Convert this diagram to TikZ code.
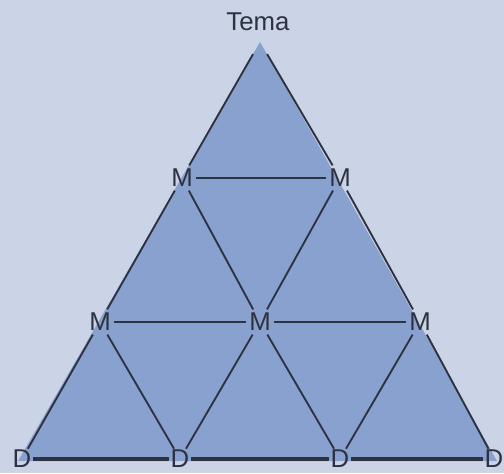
\documentclass[tikz,border=0pt]{standalone}
\usepackage{fontspec}
\setmainfont{Liberation Sans}
\usetikzlibrary{positioning}
\definecolor{papel}{RGB}{202,212,230}
\definecolor{azul}{RGB}{137,161,207}
\definecolor{tinta}{RGB}{46,50,64}
\tikzset{
    nivel/.style={
        text=tinta,
        inner sep=3pt,
        font=\fontsize{22}{26}\selectfont
    },
    % lineas finas de la red
    raya/.style={
        line width=1.6pt,
        tinta
    },
    % linea gruesa de la base
    base/.style={
        line width=3.8pt,
        tinta
    }
}

\begin{document}
\begin{tikzpicture}[x=0.03cm,y=-0.03cm]
	\fill[papel] (0,0) rectangle (504,473);
	\useasboundingbox (0,0) rectangle (504,473);

	% triangulo azul
	\fill[azul] (260,42) -- (18,461) -- (497,461) -- cycle;
	\coordinate (apex) at (260,42);

	% etiquetas
	\node[nivel] (tema) at (258,22) {Tema};
	\node[nivel] (m1) at (182,178) {M};
	\node[nivel] (m2) at (340,178) {M};
	\node[nivel] (m3) at (100,322) {M};
	\node[nivel] (m4) at (260,322) {M};
	\node[nivel] (m5) at (420,322) {M};
	\node[nivel,inner sep=1pt] (d1) at (22,459) {D};
	\node[nivel,inner sep=1pt] (d2) at (180,459) {D};
	\node[nivel,inner sep=1pt] (d3) at (340,459) {D};
	\node[nivel,inner sep=1pt] (d4) at (494,459) {D};

	% lados hacia el vertice
	\draw[raya,shorten <=0.42cm] (apex) -- (m1);
	\draw[raya,shorten <=0.42cm] (apex) -- (m2);

	% red interior
	\draw[raya] (m1) -- (m2);
	\draw[raya] (m1) -- (m3);
	\draw[raya] (m1) -- (m4);
	\draw[raya] (m2) -- (m4);
	\draw[raya] (m2) -- (m5);
	\draw[raya] (m3) -- (m4);
	\draw[raya] (m4) -- (m5);
	\draw[raya] (m3) -- (d1);
	\draw[raya] (m3) -- (d2);
	\draw[raya] (m4) -- (d2);
	\draw[raya] (m4) -- (d3);
	\draw[raya] (m5) -- (d3);
	\draw[raya] (m5) -- (d4);

	% base
	\draw[base] (d1) -- (d2);
	\draw[base] (d2) -- (d3);
	\draw[base] (d3) -- (d4);
\end{tikzpicture}
\end{document}
